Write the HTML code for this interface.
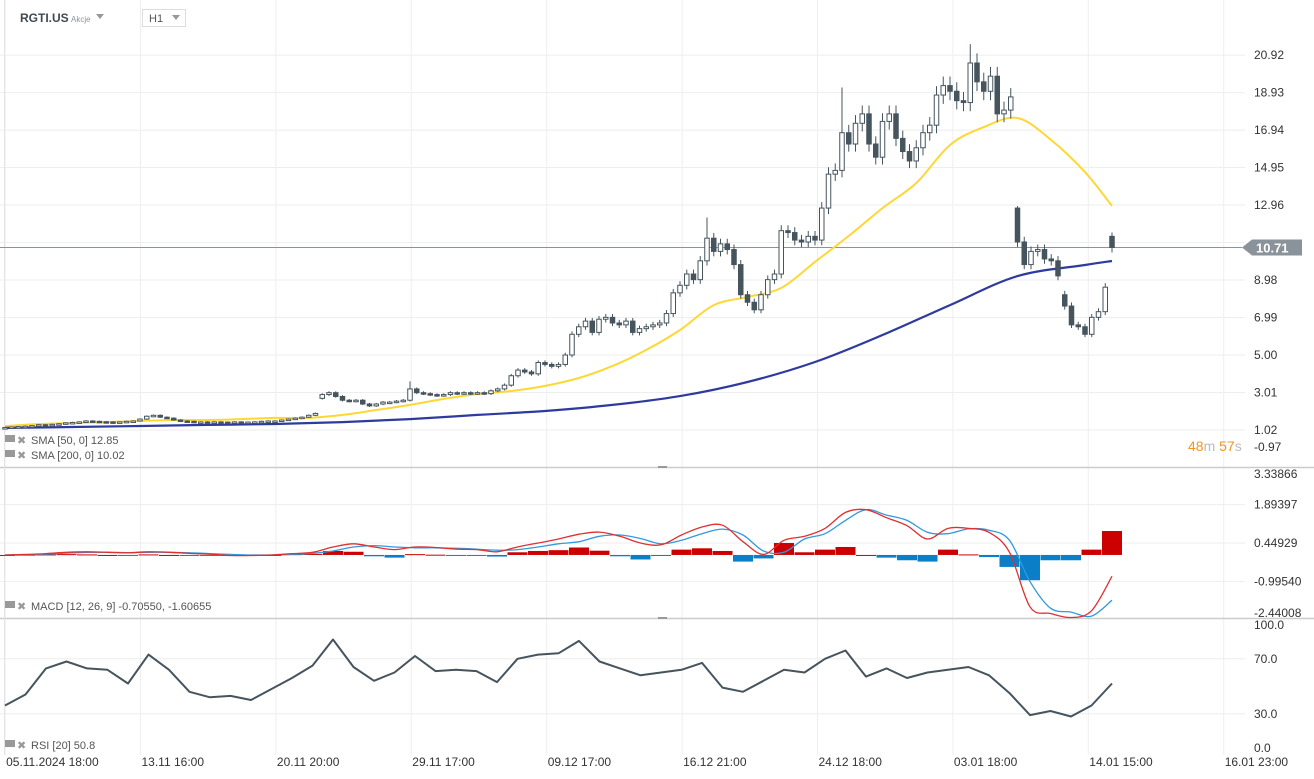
<!DOCTYPE html>
<html><head><meta charset="utf-8">
<style>
html,body{margin:0;padding:0;background:#fff;}
svg{display:block;font-family:"Liberation Sans",Arial,sans-serif;}
.ax{font-size:12px;fill:#333;}
.lg{font-size:11px;fill:#555;}
</style></head>
<body>
<svg id="chart" width="1314" height="779" viewBox="0 0 1314 779">
<g id="grid"></g>
<g id="price"></g>
<g id="macd"></g>
<g id="rsi"></g>
<g id="axes"></g>
<g>
  <text x="20" y="22" font-size="12" font-weight="bold" fill="#3c4a54">RGTI.US</text>
  <text x="71" y="22" font-size="8" fill="#8a9399">Akcje</text>
  <path d="M96 14 L104 14 L100 19 Z" fill="#999"/>
  <rect x="142.5" y="9.5" width="43" height="17" fill="#fff" stroke="#ddd"/>
  <text x="149" y="22" font-size="11" fill="#555">H1</text>
  <path d="M172 15 L180 15 L176 20 Z" fill="#999"/>
</g>
<g>
  <g><rect x="5" y="435" width="10" height="7" fill="#999"/><text x="17" y="444" font-size="11" fill="#999">✖</text><text x="31" y="444" class="lg">SMA [50, 0] 12.85</text></g>
  <g><rect x="5" y="450" width="10" height="7" fill="#999"/><text x="17" y="459" font-size="11" fill="#999">✖</text><text x="31" y="459" class="lg">SMA [200, 0] 10.02</text></g>
  <g><rect x="5" y="601" width="10" height="7" fill="#999"/><text x="17" y="610" font-size="11" fill="#999">✖</text><text x="31" y="610" class="lg">MACD [12, 26, 9] -0.70550,  -1.60655</text></g>
  <g><rect x="5" y="740" width="10" height="7" fill="#999"/><text x="17" y="749" font-size="11" fill="#999">✖</text><text x="31" y="749" class="lg">RSI [20] 50.8</text></g>
  <text x="1188" y="451" font-size="14"><tspan fill="#f7931e">48</tspan><tspan fill="#bbb">m </tspan><tspan fill="#f7931e">57</tspan><tspan fill="#bbb">s</tspan></text>
</g>
</svg>
<script>
const closes=[1.15,1.18,1.2,1.22,1.25,1.3,1.28,1.32,1.35,1.4,
1.42,1.45,1.5,1.48,1.46,1.45,1.42,1.45,1.48,1.5,
1.6,1.75,1.8,1.7,1.65,1.55,1.5,1.48,1.45,1.45,
1.42,1.45,1.44,1.43,1.45,1.42,1.44,1.45,1.48,1.5,
1.5,1.55,1.6,1.65,1.7,1.8,1.9,2.9,3.0,2.8,
2.6,2.55,2.6,2.4,2.3,2.4,2.5,2.5,2.55,2.6,
3.2,3.0,2.95,2.9,2.85,2.9,3.0,2.95,3.0,2.95,
3.0,2.95,3.1,3.2,3.4,3.9,4.2,4.1,4.0,4.6,
4.5,4.4,4.5,5.0,6.1,6.5,6.8,6.2,6.9,7.0,
6.7,6.6,6.8,6.2,6.4,6.5,6.6,6.7,7.2,8.3,
8.7,9.3,9.0,10.0,11.2,10.5,10.9,10.6,9.8,8.2,
7.8,7.4,8.2,9.0,9.3,11.6,11.5,11.1,11.0,11.3,
11.1,12.8,14.6,14.8,16.8,16.2,17.3,17.8,16.2,15.5,
17.4,17.8,16.5,15.8,15.3,16.0,16.8,17.2,18.8,19.3,
19.0,18.5,18.4,20.5,19.5,19.0,19.8,17.8,18.0,18.7,
11.0,9.8,10.5,10.6,10.1,10.0,9.2,7.6,6.6,6.5,
6.1,7.0,7.3,8.6,10.71];
const gapOpens=[[47,2.7],[150,12.8],[157,8.2],[164,11.3]];
const spikeHighs=[[104,12.3],[124,19.2],[143,21.5],[150,12.9],[164,11.5],[60,3.6]];
const sma50Idx=[0,5,10,15,20,25,30,35,40,45,50,55,60,65,70,75,80,85,90,95,100,105,110,115,120,125,130,135,140,145,150,155,160,164];
const sma50=[1.23,1.34,1.39,1.44,1.50,1.55,1.55,1.60,1.66,1.66,1.82,2.08,2.35,2.67,2.93,3.09,3.36,3.78,4.42,5.27,6.33,7.65,8.08,8.56,9.94,11.32,12.80,14.13,16.15,17.10,17.58,16.41,14.71,12.91];
const sma200Idx=[0,10,20,30,40,50,60,70,80,90,100,110,120,130,140,150,160,164];
const sma200=[1.13,1.18,1.23,1.29,1.34,1.44,1.60,1.82,2.03,2.35,2.82,3.57,4.63,6.06,7.65,9.19,9.78,9.99];
const macdLine=[0,0.02,0.05,0.1,0.12,0.1,0.08,0.12,0.1,0.06,0.03,-0.02,-0.02,0,0.05,0.1,0.3,0.42,0.3,0.2,0.3,0.28,0.22,0.2,0.12,0.3,0.45,0.6,0.78,0.86,0.7,0.45,0.38,0.75,1.05,1.12,0.5,0.02,0.55,0.7,1.0,1.6,1.7,1.4,1.1,0.6,1.0,1.0,0.85,0.1,-1.95,-2.2,-2.35,-2.1,-0.8];
const signalLine=[0,0.01,0.03,0.07,0.1,0.1,0.09,0.1,0.1,0.08,0.05,0.02,0,0,0.02,0.06,0.15,0.3,0.35,0.3,0.27,0.27,0.25,0.22,0.18,0.2,0.3,0.42,0.5,0.7,0.75,0.62,0.42,0.55,0.8,0.97,0.75,0.15,0.1,0.6,0.8,1.3,1.7,1.5,1.3,0.85,0.8,0.98,0.93,0.55,-1.0,-2.0,-2.15,-2.3,-1.7];
const rsiVals=[36,44,63,68,63,62,52,73,62,46,42,43,40,48,56,65,84,64,54,60,72,61,62,61,53,70,73,74,83,68,63,58,60,62,67,49,46,54,62,60,70,76,57,63,56,60,62,64,58,45,29,32,28,36,52];
const priceTicks=["20.92","18.93","16.94","14.95","12.96","10.97","8.98","6.99","5.00","3.01","1.02","-0.97"];
const macdTicks=["3.33866","1.89397","0.44929","-0.99540","-2.44008"];
const rsiTicks=["100.0","70.0","30.0","0.0"];
const timeLabels=["05.11.2024  18:00","13.11  16:00","20.11  20:00","29.11  17:00","09.12  17:00","16.12  21:00","24.12  18:00","03.01  18:00","14.01  15:00","16.01  23:00"];
const lastPrice=10.71;

const NS="http://www.w3.org/2000/svg";
function mk(tag,attrs,parent){const e=document.createElementNS(NS,tag);for(const k in attrs)e.setAttribute(k,attrs[k]);parent.appendChild(e);return e;}
const xC=i=>5+i*6.75;
const yP=v=>430-(v-1.02)*18.84;
const xM=k=>5+k*20.5;
const yM=v=>543-(v-0.44929)*26.6;
const yR=v=>755-v*1.375;
function smooth(pts){
  let d='M'+pts[0][0].toFixed(1)+' '+pts[0][1].toFixed(1);
  for(let i=0;i<pts.length-1;i++){
    const p0=pts[Math.max(0,i-1)],p1=pts[i],p2=pts[i+1],p3=pts[Math.min(pts.length-1,i+2)];
    const c1x=p1[0]+(p2[0]-p0[0])/6,c1y=p1[1]+(p2[1]-p0[1])/6;
    const c2x=p2[0]-(p3[0]-p1[0])/6,c2y=p2[1]-(p3[1]-p1[1])/6;
    d+=' C'+c1x.toFixed(1)+' '+c1y.toFixed(1)+' '+c2x.toFixed(1)+' '+c2y.toFixed(1)+' '+p2[0].toFixed(1)+' '+p2[1].toFixed(1);
  }
  return d;
}

const grid=document.getElementById('grid');
const axes=document.getElementById('axes');
for(let j=0;j<timeLabels.length;j++){
  const x=140.5+(j-1)*135.4;
  const l=mk('line',{x1:x,x2:x,y1:0,y2:755,stroke:'#eeeeee','stroke-width':1},grid);
  
  
  const t=mk('text',{x:x+1,y:766,class:'ax'},axes);
  t.textContent=timeLabels[j];
  
  
}
priceTicks.forEach(s=>{
  const v=parseFloat(s);const y=yP(v);
  if(y<466){const l=mk('line',{x1:0,x2:1245,y1:y,y2:y,stroke:'#eeeeee'},grid);
  
  }
  if(s==="10.97")return;
  const t=mk('text',{x:1254,y:Math.min(y,447)+4,class:'ax'},axes);
  t.textContent=s;
  
  
});
macdTicks.forEach(s=>{
  const v=parseFloat(s);const y=yM(v);
  if(y>470&&y<616){const l=mk('line',{x1:0,x2:1245,y1:y,y2:y,stroke:'#eeeeee'},grid);
  
  }
  const t=mk('text',{x:1254,y:Math.max(474,Math.min(y,613))+4,class:'ax'},axes);
  t.textContent=s;
  
  
});
rsiTicks.forEach(s=>{
  const v=parseFloat(s);const y=yR(v);
  if(y>620&&y<753){const l=mk('line',{x1:0,x2:1245,y1:y,y2:y,stroke:'#eeeeee'},grid);
  
  }
  const t=mk('text',{x:1254,y:Math.max(625,Math.min(y,748))+4,class:'ax'},axes);
  t.textContent=s;
  
  
});
[467,618].forEach(y=>{const l=mk('line',{x1:0,x2:1314,y1:y+0.5,y2:y+0.5,stroke:'#cccccc','stroke-width':1.5},grid);


const h=mk('rect',{x:658,y:y-1,width:9,height:2,fill:'#999'},grid);

});
const lb=mk('line',{x1:4.5,x2:4.5,y1:0,y2:755,stroke:'#e4e4e4'},grid);



const P=document.getElementById('price');
const pl=mk('line',{x1:0,x2:1242,y1:yP(lastPrice),y2:yP(lastPrice),stroke:'#8a9399','stroke-width':1},P);


const s50=mk('path',{d:smooth(sma50.map((v,k)=>[xC(sma50Idx[k]),yP(v)])),fill:'none',stroke:'#fdd835','stroke-width':2,'stroke-linejoin':'round'},P);


const s200=mk('path',{d:smooth(sma200.map((v,k)=>[xC(sma200Idx[k]),yP(v)])),fill:'none',stroke:'#2e3a9e','stroke-width':2.2,'stroke-linejoin':'round'},P);


const gapMap={};gapOpens.forEach(g=>gapMap[g[0]]=g[1]);
const hiMap={};spikeHighs.forEach(g=>hiMap[g[0]]=g[1]);
closes.forEach((c,i)=>{
  const o=(i in gapMap)?gapMap[i]:(i?closes[i-1]:c*0.98);
  const top=Math.max(o,c),bot=Math.min(o,c);
  const hi=(i in hiMap)?hiMap[i]:top+top*0.025;
  const lo=bot-bot*0.025;
  const x=xC(i);
  const g=mk('g',{},P);
  
  
  mk('line',{x1:x,x2:x,y1:yP(hi),y2:yP(lo),stroke:'#46545e','stroke-width':1},g);
  const h=Math.max(1.5,yP(bot)-yP(top));
  mk('rect',{x:x-2.25,y:yP(top),width:4.5,height:h,fill:c>=o?'#ffffff':'#46545e',stroke:'#46545e','stroke-width':1},g);
});
const lbl=mk('path',{d:'M1242 '+yP(lastPrice)+' L1252 '+(yP(lastPrice)-8)+' L1302 '+(yP(lastPrice)-8)+' L1302 '+(yP(lastPrice)+8)+' L1252 '+(yP(lastPrice)+8)+' Z',fill:'#8a9399'},P);


const lt=mk('text',{x:1256,y:yP(lastPrice)+5,'font-size':13,'font-weight':'bold',fill:'#fff'},P);
lt.textContent=lastPrice.toFixed(2);



const M=document.getElementById('macd');
macdLine.forEach((v,k)=>{
  const h=v-signalLine[k];
  const y0=yM(0),y1=yM(h);
  const r=mk('rect',{x:xM(k)-10,y:Math.min(y0,y1),width:20,height:Math.max(1,Math.abs(y1-y0)),fill:h>=0?'#cc0000':'#0a7ec6'},M);
  
  
});
const sl=mk('path',{d:smooth(signalLine.map((v,k)=>[xM(k),yM(v)])),fill:'none',stroke:'#3399dd','stroke-width':1.3},M);


const ml=mk('path',{d:smooth(macdLine.map((v,k)=>[xM(k),yM(v)])),fill:'none',stroke:'#e03030','stroke-width':1.3},M);



const R=document.getElementById('rsi');
const rl=mk('path',{d:rsiVals.map((v,k)=>(k?'L':'M')+xM(k).toFixed(1)+' '+yR(v).toFixed(1)).join(' '),fill:'none',stroke:'#46545e','stroke-width':2,'stroke-linejoin':'round'},R);


</script>
</body></html>
